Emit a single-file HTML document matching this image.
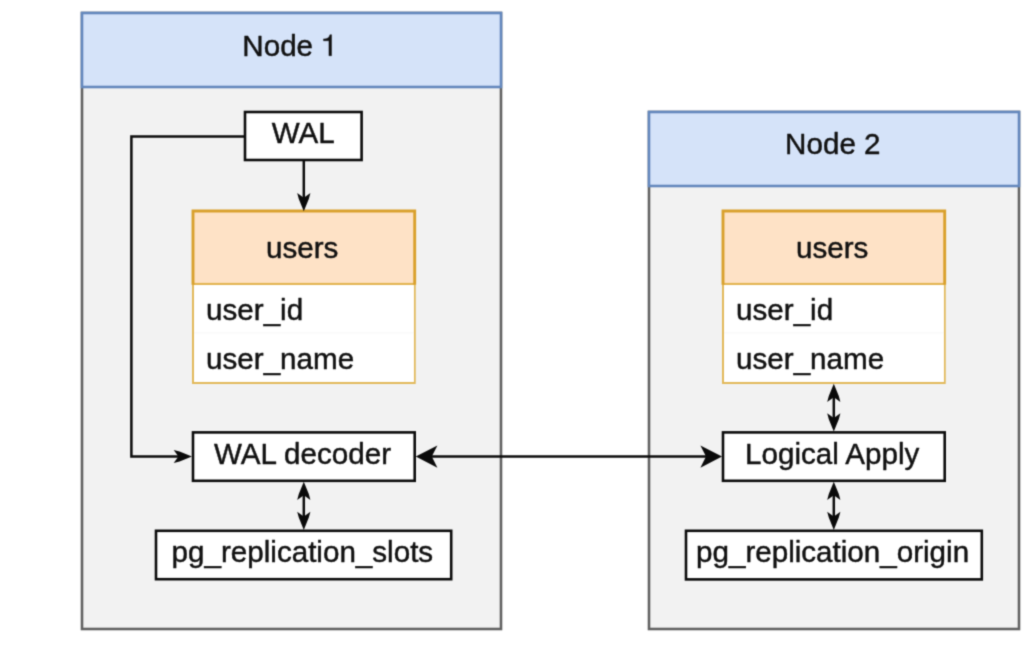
<!DOCTYPE html>
<html>
<head>
<meta charset="utf-8">
<title>Logical replication diagram</title>
<style>
  html, body { margin: 0; padding: 0; background: #ffffff; }
  body { width: 1024px; height: 650px; overflow: hidden; }
  svg { display: block; position: absolute; left: 0; top: 0; }
  text { font-family: "Liberation Sans", sans-serif; font-size: 29.6px; fill: #111111; stroke: #111111; stroke-width: 0.45px; stroke-linejoin: round; }
  .ln { stroke: #0c0c0c; stroke-width: 2.5; fill: none; }
  .box { fill: #ffffff; stroke: #0c0c0c; stroke-width: 2.6; }
  .ah { fill: #0a0a0a; stroke: none; }
</style>
</head>
<body>
<svg width="1024" height="650" viewBox="0 0 1024 650">
  <defs>
    <filter id="soft" filterUnits="userSpaceOnUse" x="0" y="0" width="1024" height="650" color-interpolation-filters="sRGB">
      <feConvolveMatrix order="3" kernelMatrix="1 4 1 4 16 4 1 4 1" divisor="36" edgeMode="duplicate" preserveAlpha="false"/>
    </filter>
    <!-- small classic arrow head, tip at (0,0) pointing +x -->
    <path id="as" d="M0.3,0 L-12,-5 L-17.9,-6.6 L-13.2,0 L-17.9,6.6 L-12,5 Z"/>
    <!-- Helvetica-style digit one, 1000 units/em, baseline at y=0 -->
    <path id="one" d="M285,0 V-505 H102 V-568 C224,-568 293,-601 319,-709 H373 V0 Z"/>
    <!-- big classic arrow head -->
    <path id="ab" d="M0,0 L-21.6,-11.2 L-16,0 L-21.6,11.2 Z"/>
  </defs>

  <g filter="url(#soft)">
  <rect x="0" y="0" width="1024" height="650" fill="#ffffff"/>

  <!-- Node 1 -->
  <rect x="82" y="13" width="419" height="616" fill="#f2f2f2" stroke="#626262" stroke-width="2.6"/>
  <rect x="82" y="13" width="419" height="74" fill="#d5e3f9" stroke="#6488bd" stroke-width="2.6"/>
  <text x="242.3" y="55.7">Node</text>
  <use href="#one" fill="#111111" stroke="#111111" stroke-width="14" transform="translate(320.5,55.7) scale(0.0296)"/>

  <!-- Node 2 -->
  <rect x="649" y="112" width="370" height="517" fill="#f2f2f2" stroke="#626262" stroke-width="2.6"/>
  <rect x="649" y="112" width="370" height="74" fill="#d5e3f9" stroke="#6488bd" stroke-width="2.6"/>
  <text x="785.1" y="154.3">Node 2</text>

  <!-- users table 1 -->
  <g id="tbl1">
    <rect x="193" y="211" width="221.7" height="172" fill="#ffffff" stroke="#e2b95c" stroke-width="2"/>
    <rect x="193" y="211" width="221.7" height="73.6" fill="#fee2c6"/>
    <rect x="193" y="282.9" width="221.7" height="2.1" fill="#e3b553"/>
    <path d="M193,284.8 V211 H414.7 V284.8" fill="none" stroke="#d9a02c" stroke-width="2.9"/>
    <rect x="194" y="285" width="219.8" height="97" fill="#ffffff"/>
    <rect x="194" y="332.4" width="219.8" height="1" fill="#f7f7f7"/>
    <text x="266" y="257.7">users</text>
    <text x="206.1" y="320.3">user_id</text>
    <text x="206.1" y="369.3">user_name</text>
  </g>

  <!-- users table 2 -->
  <g transform="translate(530,0)">
    <rect x="193" y="211" width="221.7" height="172" fill="#ffffff" stroke="#e2b95c" stroke-width="2"/>
    <rect x="193" y="211" width="221.7" height="73.6" fill="#fee2c6"/>
    <rect x="193" y="282.9" width="221.7" height="2.1" fill="#e3b553"/>
    <path d="M193,284.8 V211 H414.7 V284.8" fill="none" stroke="#d9a02c" stroke-width="2.9"/>
    <rect x="194" y="285" width="219.8" height="97" fill="#ffffff"/>
    <rect x="194" y="332.4" width="219.8" height="1" fill="#f7f7f7"/>
    <text x="266" y="257.7">users</text>
    <text x="206.1" y="320.3">user_id</text>
    <text x="206.1" y="369.3">user_name</text>
  </g>

  <!-- connectors -->
  <path class="ln" d="M245,136.5 H131.4 V456.5 H179.5"/>
  <use href="#as" class="ah" transform="translate(191.6,456.5)"/>

  <path class="ln" d="M303.8,160 V198.5"/>
  <use href="#as" class="ah" transform="translate(303.8,210.9) rotate(90)"/>

  <path class="ln" d="M303.8,494 V517.5"/>
  <use href="#as" class="ah" transform="translate(303.8,482) rotate(-90)"/>
  <use href="#as" class="ah" transform="translate(303.8,529.6) rotate(90)"/>

  <path class="ln" d="M431,456.6 H707"/>
  <use href="#ab" class="ah" transform="translate(415.8,456.6) rotate(180)"/>
  <use href="#ab" class="ah" transform="translate(722,456.6)"/>

  <path class="ln" d="M833.8,396 V419"/>
  <use href="#as" class="ah" transform="translate(833.8,384) rotate(-90)"/>
  <use href="#as" class="ah" transform="translate(833.8,431.2) rotate(90)"/>

  <path class="ln" d="M833.8,494 V517.5"/>
  <use href="#as" class="ah" transform="translate(833.8,482) rotate(-90)"/>
  <use href="#as" class="ah" transform="translate(833.8,529.6) rotate(90)"/>

  <!-- boxes -->
  <rect class="box" x="245" y="112" width="116.6" height="48"/>
  <text x="271.7" y="143.1">WAL</text>

  <rect class="box" x="193" y="432.4" width="221.7" height="48.4"/>
  <text x="213.9" y="463.5">WAL decoder</text>

  <rect class="box" x="156" y="530.8" width="295.2" height="48.4"/>
  <text x="171.6" y="561.9">pg_replication_slots</text>

  <rect class="box" x="723" y="432.4" width="221.7" height="48.4"/>
  <text x="745" y="463.7">Logical Apply</text>

  <rect class="box" x="686" y="530.8" width="295.8" height="48.6"/>
  <text x="696" y="562.1">pg_replication_origin</text>
  </g>
</svg>
</body>
</html>
